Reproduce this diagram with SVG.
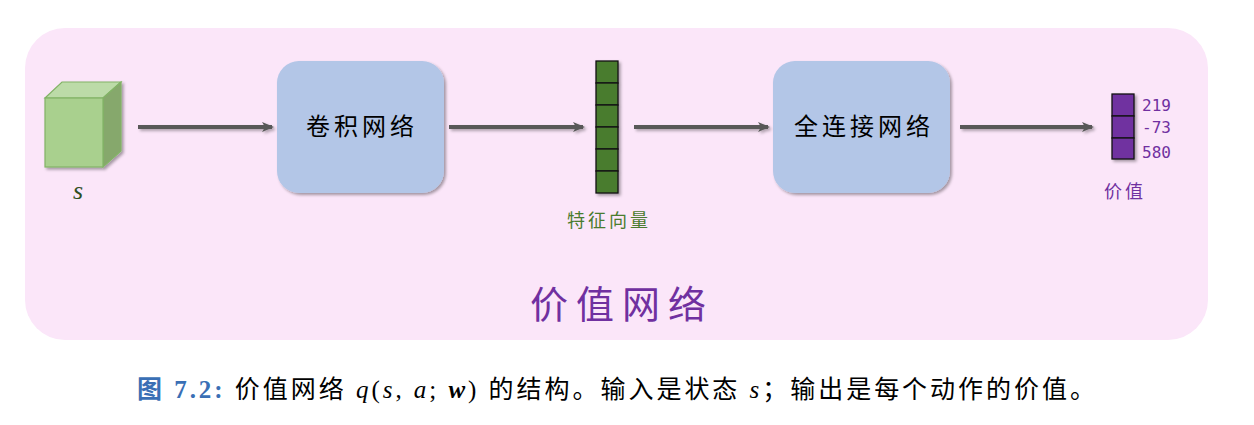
<svg xmlns="http://www.w3.org/2000/svg" width="1254" height="425" viewBox="0 0 1254 425">
<defs>
<marker id="ah" markerWidth="12" markerHeight="10" refX="10" refY="5" orient="auto" markerUnits="userSpaceOnUse"><path d="M0,0 L12,5 L0,10 L3,5 Z" fill="#595959"/></marker>
<filter id="sh" x="-20%" y="-20%" width="150%" height="150%"><feDropShadow dx="2" dy="2" stdDeviation="1.5" flood-color="#000" flood-opacity="0.35"/></filter>
<filter id="shl" filterUnits="userSpaceOnUse" x="0" y="100" width="1254" height="60"><feDropShadow dx="2" dy="2" stdDeviation="1.5" flood-color="#000" flood-opacity="0.3"/></filter>
<style>
.cn{font-family:"Noto Sans CJK SC",sans-serif}
.box{fill:#b3c6e7;filter:url(#sh)}
.lbl{font-size:24px;letter-spacing:4px}
.conn line{stroke:#595959;stroke-width:4;marker-end:url(#ah)}
.g{fill:#4a7c2e;stroke:#111;stroke-width:1.3}
.p{fill:#7030a0;stroke:#111;stroke-width:1.3}
</style>
</defs>
<rect width="1254" height="425" fill="#fff"/>
<rect x="25" y="28" width="1183" height="312" rx="40" fill="#fbe6f9"/>
<g id="state">
<g filter="url(#sh)">
<polygon points="45,98 62,82 121,82 103,98" fill="#bcdba8" stroke="#82b366" stroke-width="1.2"/>
<polygon points="103,98 121,82 121,151 103,167" fill="#86a86c" stroke="#82b366" stroke-width="1.2"/>
<rect x="45" y="98" width="58" height="69" fill="#a9d08e" stroke="#82b366" stroke-width="1.2"/>
</g>
<text x="78" y="199" font-family="Liberation Serif,serif" font-style="italic" font-size="26" fill="#2f4f1f" text-anchor="middle">s</text>
</g>
<g id="conv"><rect class="box" x="277" y="61" width="167" height="132" rx="22"/><text class="cn lbl" x="362" y="135" text-anchor="middle">卷积网络</text></g>
<g id="feature">
<g filter="url(#sh)">
<rect class="g" x="596" y="61" width="22" height="22"/><rect class="g" x="596" y="83" width="22" height="22"/><rect class="g" x="596" y="105" width="22" height="22"/><rect class="g" x="596" y="127" width="22" height="22"/><rect class="g" x="596" y="149" width="22" height="22"/><rect class="g" x="596" y="171" width="22" height="22"/>
</g>
<text class="cn" x="609" y="227" font-size="18" letter-spacing="3" fill="#4a7c2e" text-anchor="middle">特征向量</text>
</g>
<g id="fc"><rect class="box" x="773" y="61" width="177" height="132" rx="22"/><text class="cn lbl" x="864" y="135" text-anchor="middle">全连接网络</text></g>
<g id="value">
<g filter="url(#sh)">
<rect class="p" x="1112" y="94" width="22" height="22"/><rect class="p" x="1112" y="116" width="22" height="22"/><rect class="p" x="1112" y="138" width="22" height="21"/>
</g>
<g font-family="DejaVu Sans Mono,monospace" font-size="16" fill="#7030a0"><text x="1142" y="111">219</text><text x="1142" y="133">-73</text><text x="1142" y="158">580</text></g>
<text class="cn" x="1125" y="198" font-size="18" letter-spacing="3" fill="#7030a0" text-anchor="middle">价值</text>
</g>
<text class="cn" x="622" y="318" font-size="38" letter-spacing="8" fill="#7030a0" text-anchor="middle">价值网络</text>
<g class="conn" filter="url(#shl)">
<line x1="138" y1="127" x2="272" y2="127"/>
<line x1="449" y1="127" x2="583" y2="127"/>
<line x1="634" y1="127" x2="768" y2="127"/>
<line x1="960" y1="127" x2="1092" y2="127"/>
</g>
<text y="398" font-size="25" textLength="958" lengthAdjust="spacing" font-family="Liberation Serif,'Noto Sans CJK SC',serif"><tspan x="137" fill="#3a6fb5" font-weight="bold">图 7.2:</tspan><tspan fill="#000"> 价值网络 <tspan font-style="italic">q</tspan>(<tspan font-style="italic">s</tspan>, <tspan font-style="italic">a</tspan>; <tspan font-weight="bold" font-style="italic">w</tspan>) 的结构。输入是状态 <tspan font-style="italic">s</tspan>；输出是每个动作的价值。</tspan></text>
</svg>
